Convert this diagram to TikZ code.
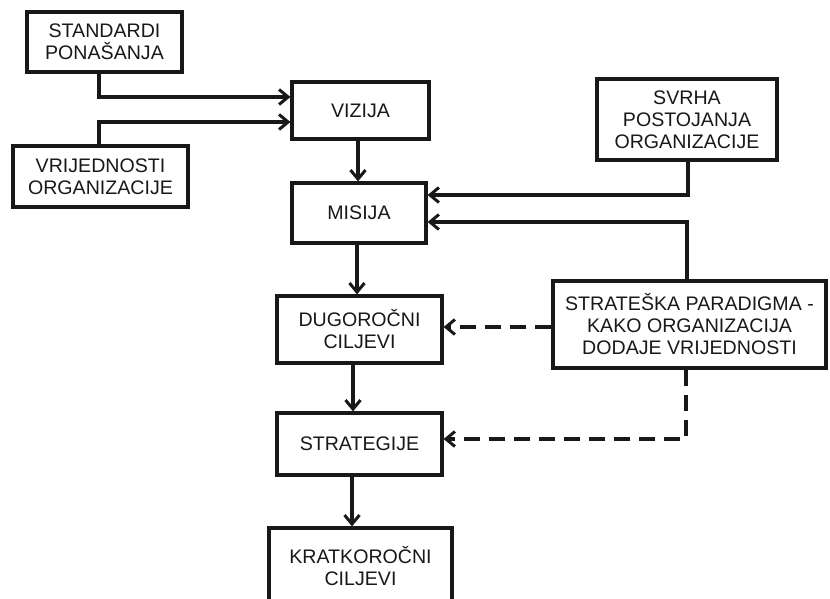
\documentclass[tikz,border=0pt]{standalone}
\usepackage{fontspec}
\setmainfont{Liberation Sans}
\usetikzlibrary{arrows.meta,calc}
\definecolor{ink}{HTML}{1A1718}
\begin{document}
\begin{tikzpicture}[x=1pt,y=1pt,
  box/.style={draw=ink, line width=3.2pt, text=ink, align=center, inner sep=0pt,
    font=\fontsize{19.6}{22}\selectfont},
  arr/.style={draw=ink, line width=3.4pt, -{Straight Barb[length=9pt,width=15pt,line width=3pt]}},
  darr/.style={arr, dash pattern=on 16pt off 9pt}]
\useasboundingbox (0,0) rectangle (830,-599);
\node[box, minimum width=155pt, minimum height=60pt] (std) at (104.5,-42) {STANDARDI\\PONAŠANJA};
\node[box, minimum width=175pt, minimum height=61pt] (vri) at (100.5,-176.5) {VRIJEDNOSTI\\ORGANIZACIJE};
\node[box, minimum width=137pt, minimum height=57pt] (viz) at (360.5,-110.5) {VIZIJA};
\node[box, minimum width=134pt, minimum height=60pt] (mis) at (359,-213) {MISIJA};
\node[box, minimum width=180pt, minimum height=81pt] (svr) at (687,-119.5) {SVRHA\\POSTOJANJA\\ORGANIZACIJE};
\node[box, minimum width=165pt, minimum height=67pt] (dug) at (359.5,-329.5) {DUGOROČNI\\CILJEVI};
\node[box, minimum width=273pt, minimum height=87pt] (sp) at (689.5,-324.5) {STRATEŠKA PARADIGMA -\\KAKO ORGANIZACIJA\\DODAJE VRIJEDNOSTI};
\node[box, minimum width=165pt, minimum height=62pt] (stg) at (359.5,-444) {STRATEGIJE};
\node[box, minimum width=183pt, minimum height=76pt] (kra) at (360.5,-566) {KRATKOROČNI\\CILJEVI};
% left inputs
\draw[arr] ($(std.south)+(-5.5,0)$) |- ($(viz.west)+(0,13.5)$);
\draw[arr] ($(vri.north)+(-1.5,0)$) |- ($(viz.west)+(0,-11.5)$);
% main chain
\draw[arr] ($(viz.south)+(-2.5,0)$) coordinate (a1) -- (a1 |- mis.north);
\draw[arr] ($(mis.south)+(-2,0)$) coordinate (a2) -- (a2 |- dug.north);
\draw[arr] ($(dug.south)+(-6.5,0)$) coordinate (a3) -- (a3 |- stg.north);
\draw[arr] ($(stg.south)+(-7.5,0)$) coordinate (a4) -- (a4 |- kra.north);
% right inputs
\draw[arr] ($(svr.south)+(1,0)$) |- ($(mis.east)+(0,18)$);
\draw[arr] ($(sp.north)+(-2.5,0)$) |- ($(mis.east)+(0,-9)$);
\draw[darr] ($(sp.west)+(0,-2.5)$) coordinate (a5) -- (a5 -| dug.east);
\draw[darr] ($(sp.south)+(-3.5,0)$) |- ($(stg.east)+(0,5)$);
\end{tikzpicture}
\end{document}
